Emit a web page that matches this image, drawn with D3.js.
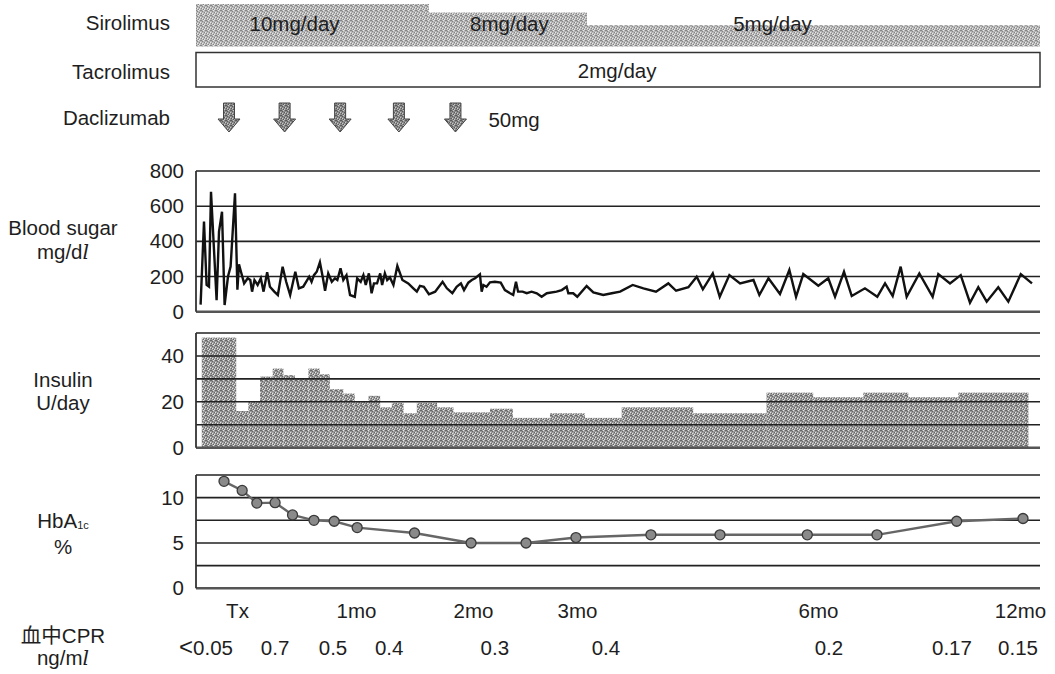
<!DOCTYPE html>
<html><head><meta charset="utf-8">
<script src="https://cdn.jsdelivr.net/npm/d3@7"></script>
<style>
body{margin:0;background:#fff}
svg{display:block}
text{font-family:"Liberation Sans",Arial,sans-serif;fill:#1e1e1e}
</style>
</head><body>
<svg id="c" width="1055" height="674"></svg>
<script>
// ---------- DATA ----------
const timeTickDays   = [0, 30, 60, 90, 180, 365];
const timeTickLabels = ["Tx", "1mo", "2mo", "3mo", "6mo", "12mo"];

const sirolimusStart  = [-10.25, 48.7, 93.7];
const sirolimusEnd    = [48.7, 93.7, 383];
const sirolimusDose   = [10, 8, 5];
const sirolimusLabels = ["10mg/day", "8mg/day", "5mg/day"];
const sirolimusLabelDays = [14.5, 70.5, 163];

const tacrolimusPeriod = [-10.25, 383];
const tacrolimusLabel  = "2mg/day";
const tacrolimusLabelDay = 105;

const daclizumabDays  = [-2, 12, 26, 41, 55.5];
const daclizumabLabel = "50mg";

const bsDays = [-9.1,-8.25,-7.6,-7,-6.5,-5.1,-4.5,-3.75,-3.1,-2.25,-1.6,-0.5,0.1,0.5,1,1.8,2.7,3.35,3.8,4.4,
  5.2,6,6.7,7.6,8.3,9.4,10.3,11.5,12.4,13.4,14.7,15.6,16.7,18.2,18.8,19.4,20.1,20.9,21.6,22.2,
  23,23.9,24.7,25.3,26.1,26.8,27.6,28.5,29.7,30.3,31.2,31.9,32.5,33.3,34,34.6,35.4,36.2,36.7,37.4,
  38,38.7,39.6,40.6,41.3,41.9,43.4,44.7,45.6,46.4,47.4,48.7,50.3,52.2,53.3,54.7,55.8,56.9,57.7,58.8,
  59.7,60.6,62,62.5,63,63.9,64.9,66.3,68,69.2,70.7,71.6,72.4,73,74.3,75.5,76.9,78.4,79.8,81.3,
  84.1,85.6,87,87.5,88.9,90.1,93.6,96.1,99.8,103,106.1,110.8,114.8,119.5,124.1,127,131.6,134.7,137,140.7,
  143.3,146.9,150.9,155.9,158.1,161.5,165.8,169.3,171.8,174.5,180.3,189.4,195.6,203.8,210.9,223,234.3,241.4,248.4,255.7,
  261.2,272.8,285,290.2,300.9,310.7,319.2,326.8,334.5,345.1,354.3,365.7,375.8];
const bsValues = [40,512,152,142,682,66,455,568,38,200,256,673,125,270,227,161,190,180,114,180,
  152,190,114,224,142,114,95,256,170,95,227,133,142,199,170,208,227,281,199,119,
  218,170,190,180,247,180,208,95,85,190,170,208,152,218,105,161,161,218,152,218,
  180,195,152,260,218,180,161,133,114,147,142,99,114,170,133,105,142,161,123,165,
  180,190,212,114,152,142,167,170,165,123,105,95,170,114,114,105,114,105,85,105,
  114,123,142,105,105,85,146,110,95,105,114,152,133,114,161,119,139,199,127,218,
  85,208,161,180,95,190,101,237,85,214,148,190,85,227,89,133,85,161,89,256,
  85,218,85,214,161,208,51,139,57,139,57,214,161];

const insulinBounds = [-8.8,-0.2,2.85,5.8,9,11.7,14.6,18,20.9,23.4,26.8,29.7,33.2,36.2,39.2,42.2,45.6,50.8,55,64.9,
  71.5,82.2,93,106.7,133.4,160.8,178.2,221.5,262.7,308.5,372.6];
const insulinDose = [48,16,20,31,34.5,31.6,30,34.5,32,25.5,23.6,20,22.6,17.6,19.6,15,19.6,17.6,15.4,17,
  13,15,13,17.6,15,24,22,24,22,24];

const hbDays   = [-3.25,1.3,5,9.6,14,19.4,24.5,30.3,45,59.5,75.3,89.7,117.6,143.4,176,234,307,367.7];
const hbValues = [11.8,10.8,9.4,9.45,8.1,7.5,7.4,6.7,6.1,5.0,5.0,5.6,5.9,5.9,5.9,5.9,7.4,7.7];

const cprDays   = [-7.75, 9.6, 24.2, 38.5, 66.3, 100.8, 190, 302.7, 363.2];
const cprLabels = ["<0.05", "0.7", "0.5", "0.4", "0.3", "0.4", "0.2", "0.17", "0.15"];

// ---------- CHART ----------
const svg = d3.select("#c");
const FS = 20.5;
const FONT = '"Liberation Sans",Arial,sans-serif';
const X0 = 196, X1 = 1040;
const x = d3.scaleLinear()
  .domain([-10.25, 0, 30, 60, 90, 180, 365, 383])
  .range([196, 237, 356, 473, 577, 818, 1020, 1040]);

// textures
const defs = svg.append("defs");
function makeTex(id, base, dark, light) {
  const p = defs.append("pattern").attr("id", id).attr("width", 5).attr("height", 5)
    .attr("patternUnits", "userSpaceOnUse");
  p.append("rect").attr("width", 5).attr("height", 5).attr("fill", base);
  [[0,0],[2,1],[4,2],[1,3],[3,4],[1,0]].forEach(([a,b]) =>
    p.append("rect").attr("x", a).attr("y", b).attr("width", 1).attr("height", 1).attr("fill", dark));
  [[3,0],[0,2],[2,3],[4,4]].forEach(([a,b]) =>
    p.append("rect").attr("x", a).attr("y", b).attr("width", 1).attr("height", 1).attr("fill", light));
}
makeTex("texS", "#b8b8b8", "#858585", "#e8e8e8");
makeTex("texI", "#9c9c9c", "#666", "#e2e2e2");
makeTex("texA", "#8c8c8c", "#5a5a5a", "#c8c8c8");

// ----- Sirolimus -----
const sirY = d3.scaleLinear().domain([0, 10]).range([46.5, 4]);
const sir = sirolimusDose.map((d, i) => ({d, s: sirolimusStart[i], e: sirolimusEnd[i]}));
svg.append("g").selectAll("rect").data(sir).join("rect")
  .attr("x", d => x(d.s)).attr("width", d => x(d.e) - x(d.s))
  .attr("y", d => sirY(d.d)).attr("height", d => sirY(0) - sirY(d.d))
  .attr("fill", "url(#texS)");
svg.append("g").selectAll("text").data(sirolimusLabels).join("text")
  .attr("x", (d, i) => x(sirolimusLabelDays[i])).attr("y", 31)
  .attr("text-anchor", "middle").attr("font-size", FS).text(d => d);

// ----- Tacrolimus -----
svg.append("rect").attr("x", x(tacrolimusPeriod[0])).attr("width", x(tacrolimusPeriod[1]) - x(tacrolimusPeriod[0]))
  .attr("y", 52.5).attr("height", 34.5).attr("fill", "#fff").attr("stroke", "#333").attr("stroke-width", 1.5);
svg.append("text").attr("x", x(tacrolimusLabelDay)).attr("y", 78).attr("text-anchor", "middle")
  .attr("font-size", FS).text(tacrolimusLabel);

// ----- Daclizumab arrows -----
const arrow = (cx) => `M${cx-5.5},103 L${cx+5.5},103 L${cx+5.5},119 L${cx+11},119 L${cx},132 L${cx-11},119 L${cx-5.5},119 Z`;
svg.append("g").selectAll("path").data(daclizumabDays).join("path")
  .attr("d", d => arrow(x(d))).attr("fill", "url(#texA)").attr("stroke", "#444").attr("stroke-width", 1);
svg.append("text").attr("x", x(daclizumabDays[daclizumabDays.length - 1]) + 33).attr("y", 127)
  .attr("font-size", FS).text(daclizumabLabel);

// left labels
const leftLab = [["Sirolimus", 30], ["Tacrolimus", 79], ["Daclizumab", 125]];
svg.append("g").selectAll("text").data(leftLab).join("text")
  .attr("x", 170).attr("y", d => d[1]).attr("text-anchor", "end").attr("font-size", FS).text(d => d[0]);

// ----- panels -----
function panel(y, ticks, grid) {
  const g = svg.append("g");
  g.selectAll("line.grid").data(grid).join("line").attr("class", "grid")
    .attr("x1", X0).attr("x2", X1).attr("y1", d => y(d)).attr("y2", d => y(d))
    .attr("stroke", d => d === 0 ? "#555" : "#222").attr("stroke-width", d => d === 0 ? 2.4 : 1.6);
  g.append("line").attr("x1", X0).attr("x2", X0).attr("y1", y.range()[0]).attr("y2", y.range()[1])
    .attr("stroke", "#333").attr("stroke-width", 1.8);
  const ax = svg.append("g").attr("transform", `translate(${X0},0)`)
    .call(d3.axisLeft(y).tickValues(ticks).tickSize(0).tickPadding(12));
  ax.select(".domain").remove();
  ax.selectAll("text").attr("font-size", FS).attr("font-family", FONT).attr("fill", "#1e1e1e");
  return g;
}

// Blood sugar
const yBS = d3.scaleLinear().domain([0, 800]).range([311.7, 171]);
panel(yBS, [0, 200, 400, 600, 800], [0, 200, 400, 600, 800]);
svg.append("path").datum(bsDays.map((d, i) => [d, bsValues[i]]))
  .attr("d", d3.line().x(d => x(d[0])).y(d => yBS(d[1])))
  .attr("fill", "none").attr("stroke", "#111").attr("stroke-width", 2.4).attr("stroke-linejoin", "miter");

// Insulin
const yIn = d3.scaleLinear().domain([0, 50]).range([447.7, 333]);
const ins = insulinDose.map((v, i) => ({v, s: insulinBounds[i], e: insulinBounds[i + 1]}));
svg.append("g").selectAll("rect").data(ins).join("rect")
  .attr("x", d => x(d.s)).attr("width", d => x(d.e) - x(d.s))
  .attr("y", d => yIn(d.v)).attr("height", d => yIn(0) - yIn(d.v))
  .attr("fill", "url(#texI)");
panel(yIn, [0, 20, 40], [0, 10, 20, 30, 40, 50]);

// HbA1c
const yHb = d3.scaleLinear().domain([0, 12.5]).range([588.3, 475]);
panel(yHb, [0, 5, 10], [0, 2.5, 5, 7.5, 10, 12.5]);
const hb = hbDays.map((d, i) => [d, hbValues[i]]);
svg.append("path").datum(hb)
  .attr("d", d3.line().x(d => x(d[0])).y(d => yHb(d[1])))
  .attr("fill", "none").attr("stroke", "#666").attr("stroke-width", 2.4);
svg.append("g").selectAll("circle").data(hb).join("circle")
  .attr("cx", d => x(d[0])).attr("cy", d => yHb(d[1])).attr("r", 5)
  .attr("fill", "#8a8a8a").attr("stroke", "#3a3a3a").attr("stroke-width", 1.3);

// x axis
const xa = svg.append("g").attr("transform", "translate(0,588.3)")
  .call(d3.axisBottom(x).tickValues(timeTickDays).tickSize(0).tickPadding(15)
    .tickFormat((d, i) => timeTickLabels[i]));
xa.select(".domain").remove();
xa.selectAll("text").attr("font-size", FS).attr("font-family", FONT).attr("fill", "#1e1e1e");

// CPR values
const cpr = svg.append("g").selectAll("text").data(cprLabels).join("text")
  .attr("x", (d, i) => x(cprDays[i])).attr("y", 655).attr("text-anchor", "middle")
  .attr("font-size", FS);
cpr.each(function(d) {
  const t = d3.select(this);
  if (d[0] === "<") {
    t.append("tspan").attr("font-size", 24).attr("font-weight", 300).attr("transform", "scale(1.3,1)").text("<");
    t.append("tspan").text(d.slice(1));
  } else t.text(d);
});

// left panel titles
function title(lines) {
  lines.forEach(([parts, y]) => {
    const t = svg.append("text").attr("x", 63).attr("y", y).attr("text-anchor", "middle").attr("font-size", FS);
    parts.forEach(p => {
      const s = t.append("tspan").text(p.t);
      if (p.it) s.attr("font-style", "italic").attr("font-family", '"DejaVu Serif",serif');
      if (p.sub) s.attr("font-size", 11).attr("dy", 1);
      if (p.cjk) s.attr("font-family", '"Noto Sans CJK JP",sans-serif');
    });
  });
}
title([[[{t: "Blood sugar"}], 235], [[{t: "mg/d"}, {t: "l", it: 1}], 259]]);
title([[[{t: "Insulin"}], 387], [[{t: "U/day"}], 410]]);
title([[[{t: "HbA"}, {t: "1c", sub: 1}], 528], [[{t: "%"}], 554]]);
title([[[{t: "血中", cjk: 1}, {t: "CPR"}], 643], [[{t: "ng/m"}, {t: "l", it: 1}], 665]]);
</script>
</body></html>
